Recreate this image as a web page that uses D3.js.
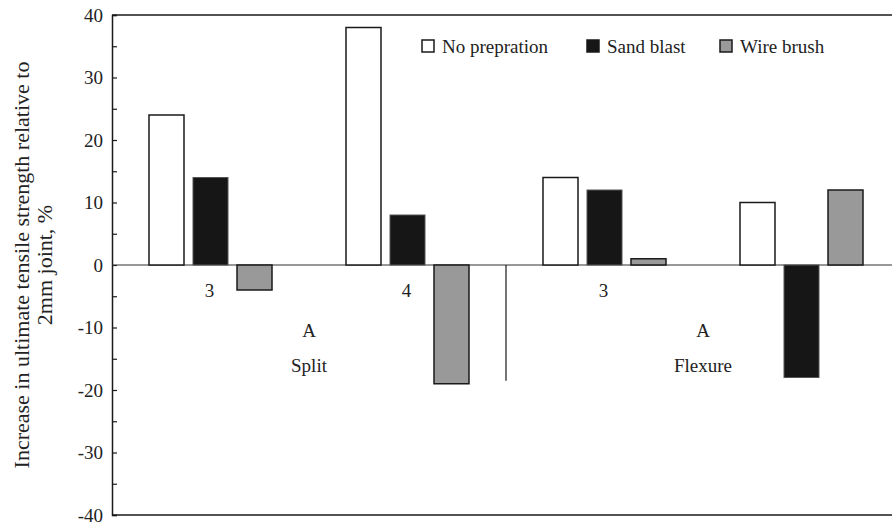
<!DOCTYPE html>
<html>
<head>
<meta charset="utf-8">
<script src="https://cdn.jsdelivr.net/npm/d3@7"></script>
<style>
  body { margin: 0; background: #fff; }
  text { font-family: "Liberation Serif", "Times New Roman", serif; fill: #222; }
</style>
</head>
<body>
<div id="chart"></div>
<script>
// data
var groups = ["g1", "g2", "g3", "g4"];
var groupLabels = ["3", "4", "3", "4"];
var series = ["No prepration", "Sand blast", "Wire brush"];
var noPrep = [24, 38, 14, 10];
var sandBlast = [14, 8, 12, -18];
var wireBrush = [-4, -19, 1, 12];
var subLabels = ["A", "A"];
var testLabels = ["Split", "Flexure"];
var yTicks = [-40, -30, -20, -10, 0, 10, 20, 30, 40];

var seriesValues = [noPrep, sandBlast, wireBrush];
var fills = ["#ffffff", "#161616", "#999999"];
var fontSize = 19;

var width = 892, height = 525;
var margin = {top: 15, right: -8, bottom: 10, left: 112};

var svg = d3.select("#chart").append("svg")
    .attr("width", width)
    .attr("height", height);

var x0 = d3.scaleBand()
    .domain(groups)
    .range([margin.left, width - margin.right])
    .paddingInner(0.3756)
    .paddingOuter(0.1878);

var x1 = d3.scaleBand()
    .domain(series)
    .range([0, x0.bandwidth()])
    .paddingInner(0.2045);

var y = d3.scaleLinear()
    .domain([-40, 40])
    .range([height - margin.bottom, margin.top]);

// frame lines: top and bottom
[40, -40].forEach(function(v) {
    svg.append("line")
        .attr("x1", margin.left).attr("x2", width - margin.right)
        .attr("y1", y(v)).attr("y2", y(v))
        .attr("stroke", "#1a1a1a").attr("stroke-width", 1.5);
});

// y axis, ticks pointing inside
var yAxis = d3.axisLeft(y)
    .tickValues(d3.range(-40, 41, 5))
    .tickSize(-5)
    .tickPadding(9)
    .tickFormat(function(d) { return yTicks.indexOf(d) >= 0 ? d : ""; });

var gy = svg.append("g")
    .attr("transform", "translate(" + margin.left + ",0)")
    .call(yAxis);
gy.select(".domain").attr("stroke", "#1a1a1a").attr("stroke-width", 1.5);
gy.selectAll(".tick line").attr("stroke", "#1a1a1a").attr("stroke-width", 1.2);
gy.selectAll(".tick text")
    .attr("font-size", fontSize)
    .attr("fill", "#222");

// zero line
svg.append("line")
    .attr("x1", margin.left).attr("x2", width - margin.right)
    .attr("y1", y(0)).attr("y2", y(0))
    .attr("stroke", "#333").attr("stroke-width", 1.2);

// group number labels (drawn before bars, so a bar may cover one)
svg.selectAll(".glabel").data(groups)
    .enter().append("text")
    .attr("class", "glabel")
    .attr("x", function(d) { return x0(d) + x0.bandwidth() / 2 - 1; })
    .attr("y", y(-5.1))
    .attr("text-anchor", "middle")
    .attr("font-size", fontSize)
    .text(function(d, i) { return groupLabels[i]; });

// bars
series.forEach(function(s, si) {
    svg.selectAll(".bar" + si).data(groups)
        .enter().append("rect")
        .attr("class", "bar" + si)
        .attr("x", function(d) { return x0(d) + x1(s); })
        .attr("y", function(d, i) { return y(Math.max(0, seriesValues[si][i])); })
        .attr("width", x1.bandwidth())
        .attr("height", function(d, i) { return Math.abs(y(seriesValues[si][i]) - y(0)); })
        .attr("fill", fills[si])
        .attr("stroke", si == 1 ? "#555" : "#1a1a1a")
        .attr("stroke-width", si == 1 ? 1 : 1.5);
});

// section labels, centred between each pair of groups
var pairCentre = function(k) { return (x0(groups[2 * k]) + x0(groups[2 * k + 1]) + x0.bandwidth()) / 2; };

svg.selectAll(".sub").data(subLabels)
    .enter().append("text")
    .attr("x", function(d, k) { return pairCentre(k); })
    .attr("y", y(-11.5))
    .attr("text-anchor", "middle")
    .attr("font-size", fontSize)
    .text(function(d) { return d; });

svg.selectAll(".test").data(testLabels)
    .enter().append("text")
    .attr("x", function(d, k) { return pairCentre(k); })
    .attr("y", y(-17.1))
    .attr("text-anchor", "middle")
    .attr("font-size", fontSize)
    .text(function(d) { return d; });

// divider between Split and Flexure
var divX = (x0(groups[1]) + x0(groups[2]) + x0.bandwidth()) / 2;
svg.append("line")
    .attr("x1", divX).attr("x2", divX)
    .attr("y1", y(0)).attr("y2", y(-18.5))
    .attr("stroke", "#1a1a1a").attr("stroke-width", 1.2);

// legend
var legendX = [422, 587, 720];
var legend = svg.selectAll(".legend").data(series)
    .enter().append("g")
    .attr("transform", function(d, i) { return "translate(" + legendX[i] + ",40)"; });
legend.append("rect")
    .attr("width", 12).attr("height", 12)
    .attr("fill", function(d, i) { return fills[i]; })
    .attr("stroke", "#1a1a1a").attr("stroke-width", 1.5);
legend.append("text")
    .attr("x", 20).attr("y", 12.5)
    .attr("font-size", fontSize)
    .text(function(d) { return d; });

// y axis title, two lines
var title = svg.append("text")
    .attr("transform", "translate(29," + y(0) + ") rotate(-90)")
    .attr("text-anchor", "middle")
    .attr("font-size", 22);
title.append("tspan").attr("x", 0).attr("dy", 0).text("Increase in ultimate tensile strength relative to");
title.append("tspan").attr("x", 0).attr("dy", 23).text("2mm joint, %");
</script>
</body>
</html>
